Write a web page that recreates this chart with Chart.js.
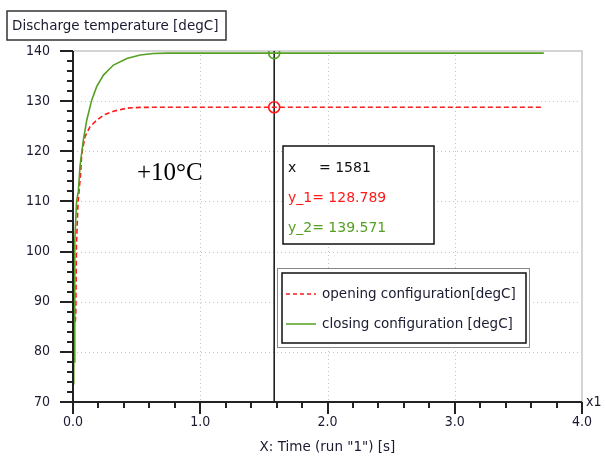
<!DOCTYPE html>
<html>
<head>
<meta charset="utf-8">
<script src="https://cdn.jsdelivr.net/npm/chart.js@4/dist/chart.umd.min.js"></script>
<style>
  html, body { margin: 0; padding: 0; background: #fff; }
  #wrap { width: 605px; height: 457px; position: relative; }
</style>
</head>
<body>
<div id="wrap"><canvas id="tempChart" width="605" height="457"></canvas></div>
<script>
// time axis is in units of 1000 s (axis marked "x1..." at the right end)
var closingTime = [0.006, 0.006, 0.014, 0.014, 0.028, 0.042, 0.055, 0.081, 0.108, 0.147, 0.186, 0.239, 0.318, 0.423, 0.528, 0.632, 0.75, 3.7];
var closingTemp = [73.5, 78, 78, 102, 110, 112, 117, 122.2, 126.2, 130.2, 132.9, 135.2, 137.2, 138.5, 139.2, 139.5, 139.571, 139.571];
var openingTime = [0.018, 0.022, 0.027, 0.04, 0.06, 0.068, 0.094, 0.134, 0.186, 0.239, 0.318, 0.423, 0.528, 0.7, 3.7];
var openingTemp = [86, 87.7, 101.3, 110, 115.6, 119.3, 122.9, 124.9, 126.2, 127.2, 128.0, 128.6, 128.75, 128.789, 128.789];

var cursorX = 1.581;
var cursorRaw = 1581;
var cursorY1 = 128.789;
var cursorY2 = 139.571;

var xTicks = [0, 1, 2, 3, 4];
var yTicks = [70, 80, 90, 100, 110, 120, 130, 140];

var chartTitle = "Discharge temperature [degC]";
var xTitle = 'X: Time (run "1") [s]';
var seriesNames = ["opening configuration[degC]", "closing configuration [degC]"];
var note = "+10\u00B0C";

var RED = "#ff1a1a";
var GREEN = "#55a023";
var INK = "#1a1a30";
var FONT = "'DejaVu Sans', sans-serif";
var NUMFONT = "'DejaVu Sans Condensed', 'DejaVu Sans', sans-serif";

function pts(xs, ys) {
  return xs.map(function (x, i) { return { x: x, y: ys[i] }; });
}

var decorations = {
  id: "decorations",
  beforeDatasetsDraw: function (chart) {
    var ctx = chart.ctx, a = chart.chartArea;
    var xs = chart.scales.x, ys = chart.scales.y;
    ctx.save();
    // dotted grid at major values
    ctx.strokeStyle = "#c4c4c4";
    ctx.lineWidth = 1;
    ctx.setLineDash([1, 3]);
    xTicks.slice(1, -1).forEach(function (v) {
      var p = Math.round(xs.getPixelForValue(v)) + 0.5;
      ctx.beginPath(); ctx.moveTo(p, a.top); ctx.lineTo(p, a.bottom); ctx.stroke();
    });
    yTicks.slice(1, -1).forEach(function (v) {
      var p = Math.round(ys.getPixelForValue(v)) + 0.5;
      ctx.beginPath(); ctx.moveTo(a.left, p); ctx.lineTo(a.right, p); ctx.stroke();
    });
    ctx.setLineDash([]);
    // light top / right frame
    ctx.strokeStyle = "#d4d4d4";
    ctx.lineWidth = 2;
    ctx.beginPath();
    ctx.moveTo(a.left, a.top); ctx.lineTo(a.right, a.top); ctx.lineTo(a.right, a.bottom);
    ctx.stroke();
    ctx.restore();
  },
  afterDatasetsDraw: function (chart) {
    var ctx = chart.ctx, a = chart.chartArea;
    var xs = chart.scales.x, ys = chart.scales.y;
    ctx.save();
    // axes
    ctx.strokeStyle = "#222";
    ctx.lineWidth = 2;
    ctx.beginPath();
    ctx.moveTo(a.left, a.top); ctx.lineTo(a.left, a.bottom); ctx.lineTo(a.right, a.bottom);
    ctx.stroke();
    // ticks: major every 10 / 1.0, minor every 2 / 0.2
    for (var v = 70; v <= 140; v += 2) {
      var p = Math.round(ys.getPixelForValue(v));
      var len = (v % 10 === 0) ? 13 : 6;
      ctx.beginPath(); ctx.moveTo(a.left - len, p); ctx.lineTo(a.left, p); ctx.stroke();
    }
    for (var i = 0; i <= 20; i++) {
      var q = Math.round(xs.getPixelForValue(i * 0.2));
      var l2 = (i % 5 === 0) ? 12 : 6;
      ctx.beginPath(); ctx.moveTo(q, a.bottom); ctx.lineTo(q, a.bottom + l2); ctx.stroke();
    }
    // x-axis multiplier label
    ctx.fillStyle = INK;
    ctx.font = "14px " + NUMFONT;
    ctx.textBaseline = "middle";
    ctx.fillText("x1", a.right + 4, a.bottom);

    // title box
    ctx.strokeStyle = "#333";
    ctx.lineWidth = 1.5;
    ctx.strokeRect(7, 11, 219, 29);
    ctx.fillStyle = INK;
    ctx.font = "13.5px " + FONT;
    ctx.fillText(chartTitle, 12, 26);

    // +10°C note
    ctx.fillStyle = "#000";
    ctx.font = "25px 'Liberation Serif', serif";
    ctx.textBaseline = "alphabetic";
    ctx.fillText(note, 137, 180);
    ctx.textBaseline = "middle";

    // cursor readout box
    ctx.strokeStyle = "#111";
    ctx.lineWidth = 1.5;
    ctx.fillStyle = "#fff";
    ctx.fillRect(283, 146, 151, 98);
    ctx.strokeRect(283, 146, 151, 98);
    ctx.font = "14px " + FONT;
    ctx.fillStyle = "#111";
    ctx.fillText("x", 288, 168);
    ctx.fillText("= " + cursorRaw, 319, 168);
    ctx.fillStyle = RED;
    ctx.fillText("y_1= " + cursorY1.toFixed(3), 288, 198);
    ctx.fillStyle = GREEN;
    ctx.fillText("y_2= " + cursorY2.toFixed(3), 288, 228);

    // legend box
    ctx.fillStyle = "#fff";
    ctx.fillRect(277, 268, 253, 80);
    ctx.strokeStyle = "#111";
    ctx.lineWidth = 1;
    ctx.setLineDash([1, 1]);
    ctx.strokeRect(277.5, 268.5, 252, 79);
    ctx.setLineDash([]);
    ctx.lineWidth = 1.5;
    ctx.strokeRect(282, 273, 244, 70);
    ctx.strokeStyle = RED;
    ctx.setLineDash([4, 3]);
    ctx.beginPath(); ctx.moveTo(286, 294); ctx.lineTo(316, 294); ctx.stroke();
    ctx.setLineDash([]);
    ctx.strokeStyle = GREEN;
    ctx.beginPath(); ctx.moveTo(286, 324); ctx.lineTo(316, 324); ctx.stroke();
    ctx.fillStyle = INK;
    ctx.font = "13.5px " + FONT;
    ctx.fillText(seriesNames[0], 322, 294);
    ctx.fillText(seriesNames[1], 322, 324);
    ctx.restore();
  }
};

var ctx = document.getElementById("tempChart").getContext("2d");
var tempChart = new Chart(ctx, {
  type: "scatter",
  data: {
    datasets: [
      {
        label: seriesNames[0],
        data: pts(openingTime, openingTemp),
        showLine: true,
        borderColor: RED,
        borderWidth: 1.6,
        borderDash: [5, 3],
        pointRadius: 0,
        order: 2
      },
      {
        label: seriesNames[1],
        data: pts(closingTime, closingTemp),
        showLine: true,
        borderColor: GREEN,
        borderWidth: 1.6,
        pointRadius: 0,
        order: 1
      },
      {
        label: "cursor",
        data: [{ x: cursorX, y: 70 }, { x: cursorX, y: 140 }],
        showLine: true,
        borderColor: "#111",
        borderWidth: 1.5,
        pointRadius: 0,
        order: 3
      },
      {
        label: "marker 1",
        data: [{ x: cursorX, y: cursorY1 }],
        pointRadius: 5.5,
        pointBorderWidth: 1.6,
        pointBorderColor: RED,
        pointBackgroundColor: "rgba(0,0,0,0)",
        order: 0
      },
      {
        label: "marker 2",
        data: [{ x: cursorX, y: cursorY2 }],
        pointRadius: 5.5,
        pointBorderWidth: 1.6,
        pointBorderColor: GREEN,
        pointBackgroundColor: "rgba(0,0,0,0)",
        order: 0
      }
    ]
  },
  options: {
    responsive: false,
    animation: false,
    events: [],
    layout: { padding: { top: 51, right: 23, left: 0, bottom: 0 } },
    plugins: {
      legend: { display: false },
      tooltip: { enabled: false },
      title: { display: false }
    },
    scales: {
      x: {
        type: "linear",
        min: 0,
        max: 4,
        grid: { display: false, drawTicks: false },
        border: { display: false },
        afterBuildTicks: function (s) { s.ticks = xTicks.map(function (v) { return { value: v }; }); },
        ticks: {
          color: INK,
          font: { family: NUMFONT, size: 14 },
          padding: 12,
          maxRotation: 0,
          callback: function (v) { return Number(v).toFixed(1); }
        },
        title: {
          display: true,
          text: xTitle,
          color: INK,
          font: { family: FONT, size: 13.5 },
          padding: { top: 4, bottom: 1 }
        },
        afterFit: function (s) { s.height = 55; }
      },
      y: {
        type: "linear",
        min: 70,
        max: 140,
        grid: { display: false, drawTicks: false },
        border: { display: false },
        afterBuildTicks: function (s) { s.ticks = yTicks.map(function (v) { return { value: v }; }); },
        ticks: {
          color: INK,
          font: { family: NUMFONT, size: 14 },
          padding: 23
        },
        afterFit: function (s) { s.width = 73; }
      }
    }
  },
  plugins: [decorations]
});
</script>
</body>
</html>
